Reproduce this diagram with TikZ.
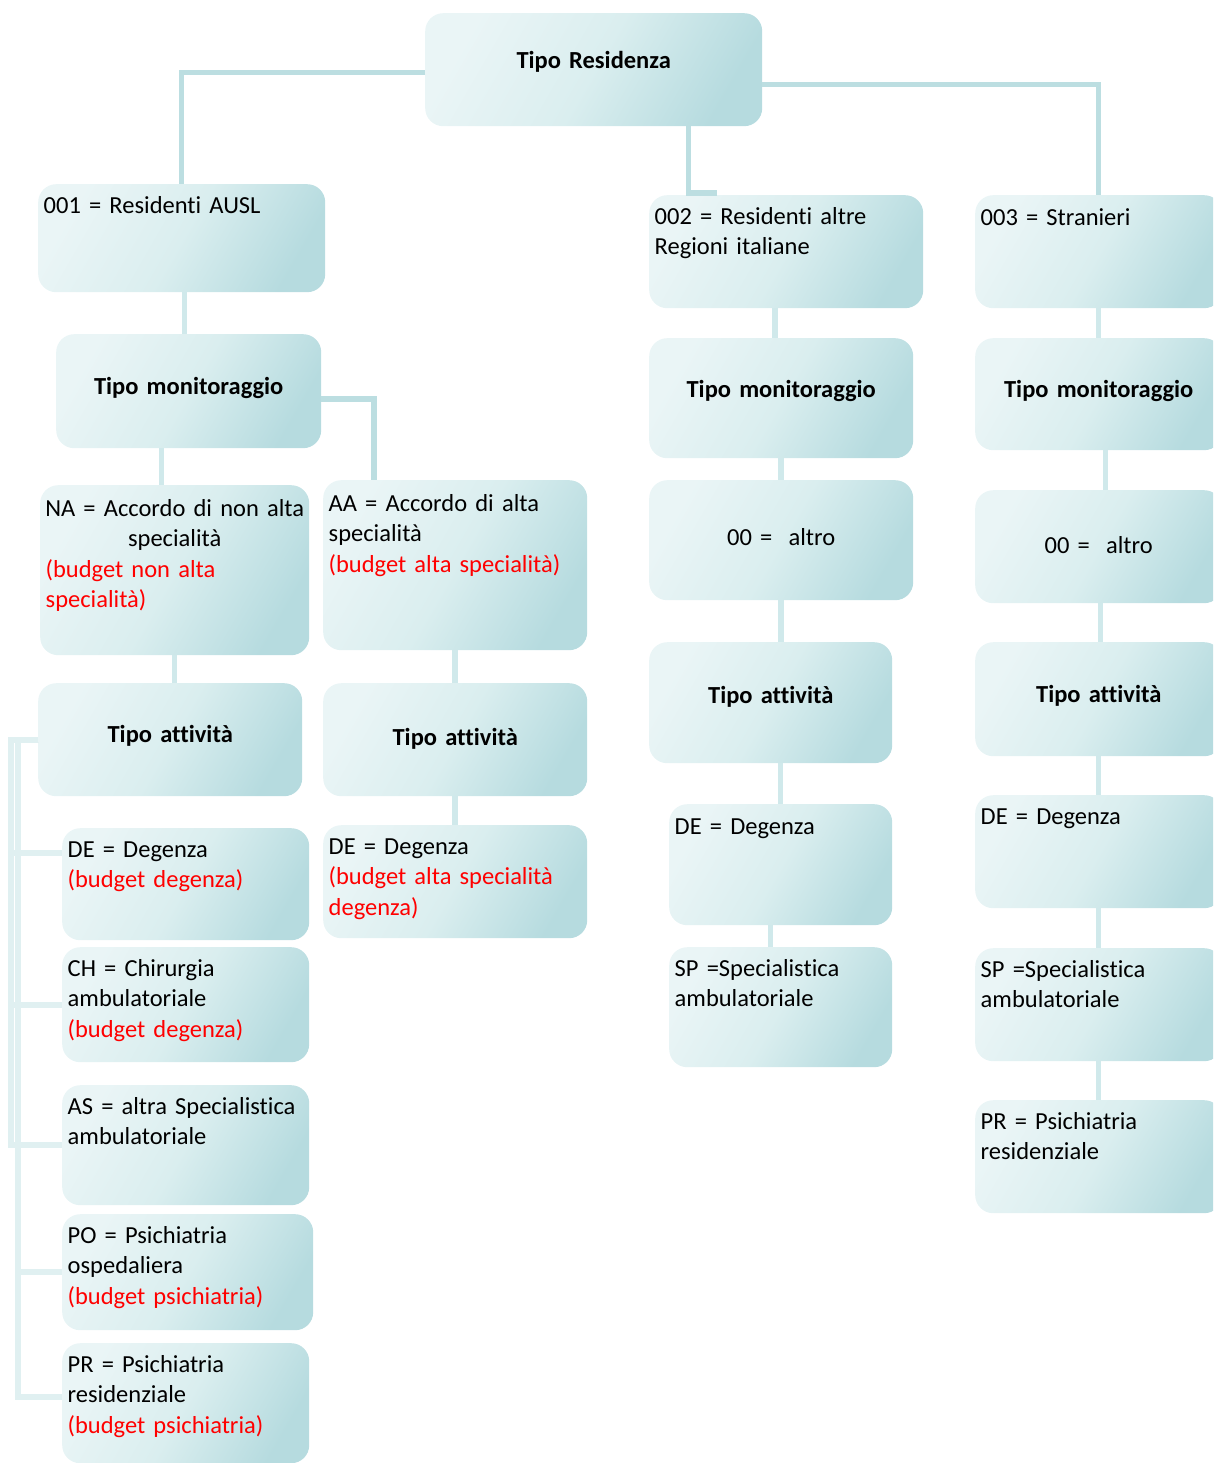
\documentclass[tikz,border=0pt]{standalone}
\usepackage{fontspec}
\setmainfont{Carlito}[RawFeature={-liga;-clig;-dlig;-calt},WordSpace=0.85]
\usetikzlibrary{positioning}
\definecolor{boxlight}{HTML}{EAF5F6}
\definecolor{boxmid}{HTML}{DAEEEF}
\definecolor{boxdark}{HTML}{B6DBDF}
\definecolor{connteal}{HTML}{BCDEE1}
\definecolor{linkteal}{HTML}{D0E9EB}
\definecolor{busteal}{HTML}{E0F0F1}
\tikzset{
  resbox/.style={rounded corners=18pt, top color=boxlight, bottom color=boxdark, middle color=boxmid, shading angle=60, anchor=north west, inner xsep=5.5pt, inner ysep=0pt, align=left, font=\fontsize{24.5}{30.5}\selectfont},
  title box/.style={resbox, align=center, font=\fontsize{24.5}{30.5}\selectfont\bfseries},
  plain box/.style={resbox, align=center},
  boxdim/.style n args={3}{text width={(#1-11)*1pt}, text height={#3*1pt}, text depth={(#2-#3)*1pt}},
  conn/.style={draw=connteal, line width=5.5pt},
  link/.style={draw=linkteal, line width=5.5pt},
  bus/.style={draw=busteal, line width=6pt},
}
\begin{document}
\begin{tikzpicture}[x=1pt,y=-1pt]
\clip (0,0) rectangle (1213,1463);
%level 0 and 1
\node[title box,boxdim={337}{113}{55}] (root) at (425,13) {Tipo Residenza};
\node[resbox,boxdim={287}{108}{29}] (n001) at (38,184) {001 = Residenti AUSL};
\node[resbox,boxdim={274}{113}{29}] (n002) at (649,195) {002 = Residenti altre\\Regioni italiane};
\node[resbox,boxdim={247}{113}{30}] (n003) at (975,195) {003 = Stranieri};
%tipo monitoraggio
\node[title box,boxdim={265}{114}{60}] (tm1) at (56,334) {Tipo monitoraggio};
\node[title box,boxdim={264}{120}{59}] (tm2) at (649,338) {Tipo monitoraggio};
\node[title box,boxdim={247}{112}{59}] (tm3) at (975,338) {Tipo monitoraggio};
%accordi
\node[resbox,boxdim={269}{170}{31}] (na) at (40,485) {\makebox[\linewidth][c]{NA = Accordo di non alta}\\\makebox[\linewidth][c]{specialità}\\\textcolor{red}{(budget non alta\\specialità)}};
\node[resbox,boxdim={264}{170}{31}] (aa) at (323,480) {AA = Accordo di alta\\specialità\\\textcolor{red}{(budget alta specialità)}};
\node[plain box,boxdim={264}{120}{65}] (alt2) at (649,480) {00 = \ altro};
\node[plain box,boxdim={247}{113}{63}] (alt3) at (975,490) {00 = \ altro};
%tipo attivita
\node[title box,boxdim={264}{113}{59}] (ta1) at (38,683) {Tipo attività};
\node[title box,boxdim={264}{113}{62}] (ta2) at (323,683) {Tipo attività};
\node[title box,boxdim={243}{121}{61}] (ta3) at (649,642) {Tipo attività};
\node[title box,boxdim={247}{114}{60}] (ta4) at (975,642) {Tipo attività};
%attivita
\node[resbox,boxdim={247}{112}{29}] (de1) at (62,828) {DE = Degenza\\\textcolor{red}{(budget degenza)}};
\node[resbox,boxdim={247}{115}{29}] (ch) at (62,947) {CH = Chirurgia\\ambulatoriale\\\textcolor{red}{(budget degenza)}};
\node[resbox,boxdim={247}{120}{29}] (as) at (62,1085) {AS = altra Specialistica\\ambulatoriale};
\node[resbox,boxdim={251}{116}{29}] (po) at (62,1214) {PO = Psichiatria\\ospedaliera\\\textcolor{red}{(budget psichiatria)}};
\node[resbox,boxdim={247}{120}{29}] (pr1) at (62,1343) {PR = Psichiatria\\residenziale\\\textcolor{red}{(budget psichiatria)}};
\node[resbox,boxdim={264}{113}{29}] (deaa) at (323,825) {DE = Degenza\\\textcolor{red}{(budget alta specialità\\degenza)}};
\node[resbox,boxdim={223}{121}{30}] (de2) at (669,804) {DE = Degenza};
\node[resbox,boxdim={223}{120}{29}] (sp2) at (669,947) {SP =Specialistica\\ambulatoriale};
\node[resbox,boxdim={247}{113}{29}] (de3) at (975,795) {DE = Degenza};
\node[resbox,boxdim={247}{113}{29}] (sp3) at (975,948) {SP =Specialistica\\ambulatoriale};
\node[resbox,boxdim={247}{113}{29}] (pr3) at (975,1100) {PR = Psichiatria\\residenziale};
%connectors
\draw[conn] ([yshift=-3pt]root.west) -| (n001.north);
\draw[conn] ([xshift=95pt]root.south) |- ([xshift=-69pt,yshift=2pt]n002.north);
\draw[conn] ([yshift=-15pt]root.east) -| (n003.north);
\draw[link] ([xshift=3pt]n001.south) -- ([xshift=-4pt]tm1.north);
\draw[link] ([xshift=-27pt]tm1.south) -- ([xshift=-13pt]na.north);
\draw[conn] ([yshift=-8pt]tm1.east) -| ([xshift=-81pt]aa.north);
\draw[link] (na.south) -- (na.south |- ta1.north);
\draw[link] (aa.south) -- (ta2.north);
\draw[link] (ta2.south) -- (deaa.north);
\draw[bus] (ta1.west) -- ++(-27,0) |- ([yshift=31pt]de1.west);
\draw[bus] (ta1.west) -- ++(-27,0) |- (ch.west);
\draw[bus] (ta1.west) -- ++(-27,0) |- (as.west);
\draw[bus] (ta1.west) -- ++(-20,0) |- (po.west);
\draw[bus] (ta1.west) -- ++(-20,0) |- ([yshift=6pt]pr1.west);
\draw[link] ([xshift=-11pt]n002.south) -- ([xshift=-6pt]tm2.north);
\draw[link] (tm2.south) -- (alt2.north);
\draw[link] (alt2.south) -- (alt2.south |- ta3.north);
\draw[link] (ta3.south -| de2.north) -- (de2.north);
\draw[link] ([xshift=-10pt]de2.south) -- ([xshift=-10pt]sp2.north);
\draw[link] (n003.south) -- (tm3.north);
\draw[link] ([xshift=7pt]tm3.south) -- ([xshift=7pt]alt3.north);
\draw[link] ([xshift=2pt]alt3.south) -- ([xshift=2pt]ta4.north);
\draw[link] (ta4.south) -- (de3.north);
\draw[link] (de3.south) -- (sp3.north);
\draw[link] (sp3.south) -- (pr3.north);
\end{tikzpicture}
\end{document}
